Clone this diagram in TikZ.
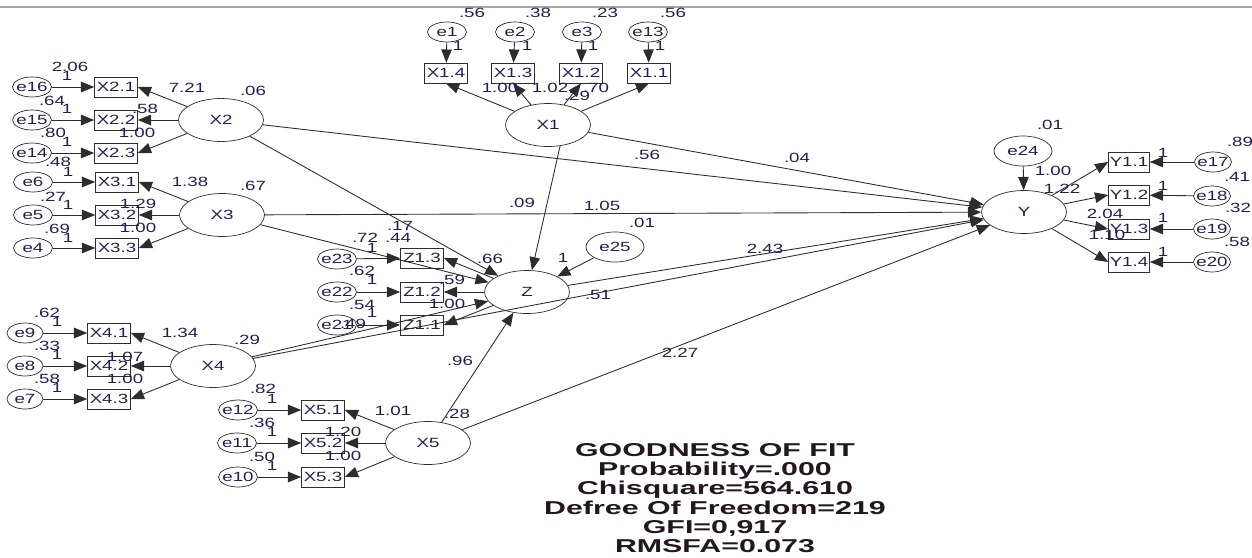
\documentclass[tikz,border=0pt]{standalone}
\usepackage{fontspec}
\setmainfont{Liberation Sans}[FakeStretch=1.4]
\newfontfamily\goffont{Liberation Sans}[FakeStretch=1.63]
\usetikzlibrary{shapes.geometric,arrows.meta}

\definecolor{ink}{RGB}{32,32,82}
\definecolor{edge}{RGB}{45,45,45}
\definecolor{gofink}{RGB}{35,22,32}
\newcommand{\nb}[1]{\makebox[0pt]{#1}}

\tikzset{
  lat/.style={ellipse, draw=edge, minimum width=1.7cm, minimum height=0.86cm, inner sep=0pt, text=ink},
  err/.style={ellipse, draw=edge, minimum width=0.78cm, minimum height=0.4cm, inner sep=0pt, text=ink},
  errbig/.style={err, minimum width=1.16cm, minimum height=0.6cm},
  obs/.style={rectangle, draw=edge, minimum width=0.86cm, minimum height=0.4cm, inner sep=0pt, text=ink},
  arr/.style={draw=edge, line width=0.5pt, -{Triangle[length=7.5pt,width=6pt]}},
  lbl/.style={text=ink, inner sep=0pt},
}

\begin{document}
\begin{tikzpicture}[x=0.02cm, y=-0.02cm, font=\fontsize{7.6}{8}\selectfont]
    \useasboundingbox (0,0) rectangle (1252,558);
    % Bordure en haut
    \draw[gray!70, line width=1.2pt] (0,7) -- (1252,7);

    % Bloc X2
    \node[err] (e16) at (32,87) {\nb{e16}};
    \node[err] (e15) at (32,120) {\nb{e15}};
    \node[err] (e14) at (32,153) {\nb{e14}};
    \node[obs] (X21) at (116,87) {X2.1};
    \node[obs] (X22) at (116,120) {X2.2};
    \node[obs] (X23) at (116,153) {X2.3};
    \node[lat] (X2) at (221,120) {X2};
    \draw[arr] (e16) -- (X21);
    \draw[arr] (e15) -- (X22);
    \draw[arr] (e14) -- (X23);
    \draw[arr] (X2) -- (X21.east);
    \draw[arr] (X2) -- (X22.east);
    \draw[arr] (X2) -- (X23.east);
    \node[lbl] (v16) at (70,67) {2.06};
    \node[lbl] (w16) at (67,76) {1};
    \node[lbl] (v15) at (52,101) {.64};
    \node[lbl] (w15) at (67,109) {1};
    \node[lbl] (v14) at (53,133) {.80};
    \node[lbl] (w14) at (67,142) {1};
    \node[lbl] (k21) at (187,88) {7.21};
    \node[lbl] (k22) at (145,109) {.58};
    \node[lbl] (k23) at (137,133) {1.00};
    \node[lbl] (vX2) at (253,91) {.06};

    % Bloc X3
    \node[err] (e6) at (33,182) {\nb{e6}};
    \node[err] (e5) at (33,215) {\nb{e5}};
    \node[err] (e4) at (33,248) {\nb{e4}};
    \node[obs] (X31) at (117,182) {X3.1};
    \node[obs] (X32) at (117,215) {X3.2};
    \node[obs] (X33) at (117,248) {X3.3};
    \node[lat] (X3) at (222,215) {X3};
    \draw[arr] (e6) -- (X31);
    \draw[arr] (e5) -- (X32);
    \draw[arr] (e4) -- (X33);
    \draw[arr] (X3) -- (X31.east);
    \draw[arr] (X3) -- (X32.east);
    \draw[arr] (X3) -- (X33.east);
    \node[lbl] (v6) at (58,162) {.48};
    \node[lbl] (w6) at (68,172) {1};
    \node[lbl] (v5) at (53,197) {.27};
    \node[lbl] (w5) at (68,205) {1};
    \node[lbl] (v4) at (57,229) {.69};
    \node[lbl] (w4) at (68,238) {1};
    \node[lbl] (k31) at (190,182) {1.38};
    \node[lbl] (k32) at (138,204) {1.29};
    \node[lbl] (k33) at (138,228) {1.00};
    \node[lbl] (vX3) at (253,186) {.67};

    % Bloc X1
    \node[err] (e1) at (447,32) {\nb{e1}};
    \node[err] (e2) at (515,32) {\nb{e2}};
    \node[err] (e3) at (582,32) {\nb{e3}};
    \node[err] (e13) at (648,32) {\nb{e13}};
    \node[obs] (X14) at (446,73) {X1.4};
    \node[obs] (X13) at (513,73) {X1.3};
    \node[obs] (X12) at (581,73) {X1.2};
    \node[obs] (X11) at (649,73) {X1.1};
    \node[lat] (X1) at (548,125) {X1};
    \draw[arr] (e1) -- (X14);
    \draw[arr] (e2) -- (X13);
    \draw[arr] (e3) -- (X12);
    \draw[arr] (e13) -- (X11);
    \draw[arr] (X1) -- (X14.south);
    \draw[arr] (X1) -- (X13.south);
    \draw[arr] (X1) -- (X12.south);
    \draw[arr] (X1) -- (X11.south);
    \node[lbl] (v1) at (472,13) {.56};
    \node[lbl] (v2) at (538,13) {.38};
    \node[lbl] (v3) at (605,13) {.23};
    \node[lbl] (v13) at (673,13) {.56};
    \node[lbl] (w1) at (458,46) {1};
    \node[lbl] (w2) at (527,46) {1};
    \node[lbl] (w3) at (593,46) {1};
    \node[lbl] (w13) at (660,46) {1};
    \node[lbl] (k14) at (500,88) {1.00};
    \node[lbl] (k12) at (550,88) {1.02};
    \node[lbl] (k11) at (596,88) {.70};
    \node[lbl] (vX1) at (577,96) {.29};

    % Bloc Z
    \node[err] (e23) at (337,259) {\nb{e23}};
    \node[err] (e22) at (337,292) {\nb{e22}};
    \node[err] (e21) at (337,325) {\nb{e21}};
    \node[obs] (Z13) at (422,258) {Z1.3};
    \node[obs] (Z12) at (422,292) {Z1.2};
    \node[obs] (Z11) at (422,325) {Z1.1};
    \node[lat] (Z) at (527,292) {Z};
    \node[errbig] (e25) at (615,247) {e25};
    \draw[arr] (e23) -- (Z13);
    \draw[arr] (e22) -- (Z12);
    \draw[arr] (e21) -- (Z11);
    \draw[arr] (Z) -- (Z13.east);
    \draw[arr] (Z) -- (Z12.east);
    \draw[arr] (Z) -- (Z11.east);
    \draw[arr] (e25) -- (Z);
    \node[lbl] (v23) at (365,238) {.72};
    \node[lbl] (w23) at (372,248) {1};
    \node[lbl] (v22) at (362,271) {.62};
    \node[lbl] (w22) at (372,280) {1};
    \node[lbl] (v21) at (362,305) {.54};
    \node[lbl] (w21) at (372,313) {1};
    \node[lbl] (kz3) at (398,238) {.44};
    \node[lbl] (kz2) at (452,280) {.59};
    \node[lbl] (kz1) at (447,304) {1.00};
    \node[lbl] (w25) at (563,258) {1};
    \node[lbl] (v25) at (642,223) {.01};

    % Bloc X4
    \node[err, minimum width=0.72cm] (e9) at (25,333) {\nb{e9}};
    \node[err, minimum width=0.72cm] (e8) at (25,366) {\nb{e8}};
    \node[err, minimum width=0.72cm] (e7) at (25,399) {\nb{e7}};
    \node[obs] (X41) at (109,333) {X4.1};
    \node[obs] (X42) at (109,366) {X4.2};
    \node[obs] (X43) at (109,399) {X4.3};
    \node[lat] (X4) at (213,366) {X4};
    \draw[arr] (e9) -- (X41);
    \draw[arr] (e8) -- (X42);
    \draw[arr] (e7) -- (X43);
    \draw[arr] (X4) -- (X41.east);
    \draw[arr] (X4) -- (X42.east);
    \draw[arr] (X4) -- (X43.east);
    \node[lbl] (v9) at (47,313) {.62};
    \node[lbl] (w9) at (57,322) {1};
    \node[lbl] (v8) at (47,346) {.33};
    \node[lbl] (w8) at (57,355) {1};
    \node[lbl] (v7) at (47,379) {.58};
    \node[lbl] (w7) at (57,388) {1};
    \node[lbl] (k41) at (180,333) {1.34};
    \node[lbl] (k42) at (125,357) {1.07};
    \node[lbl] (k43) at (125,379) {1.00};
    \node[lbl] (vX4) at (247,340) {.29};

    % Bloc X5
    \node[err] (e12) at (238,410) {\nb{e12}};
    \node[err] (e11) at (237,443) {\nb{e11}};
    \node[err] (e10) at (238,477) {\nb{e10}};
    \node[obs] (X51) at (323,410) {X5.1};
    \node[obs] (X52) at (323,443) {X5.2};
    \node[obs] (X53) at (323,477) {X5.3};
    \node[lat] (X5) at (428,443) {X5};
    \draw[arr] (e12) -- (X51);
    \draw[arr] (e11) -- (X52);
    \draw[arr] (e10) -- (X53);
    \draw[arr] (X5) -- (X51.east);
    \draw[arr] (X5) -- (X52.east);
    \draw[arr] (X5) -- (X53.east);
    \node[lbl] (v12) at (263,389) {.82};
    \node[lbl] (w12) at (272,399) {1};
    \node[lbl] (v11) at (262,423) {.36};
    \node[lbl] (w11) at (272,432) {1};
    \node[lbl] (v10) at (262,457) {.50};
    \node[lbl] (w10) at (272,466) {1};
    \node[lbl] (k51) at (393,411) {1.01};
    \node[lbl] (k52) at (343,432) {1.20};
    \node[lbl] (k53) at (343,456) {1.00};
    \node[lbl] (vX5) at (457,414) {.28};

    % Bloc Y
    \node[errbig] (e24) at (1023,151) {e24};
    \node[lat] (Y) at (1024,212) {Y};
    \node[obs, minimum width=0.82cm] (Y11) at (1129,162) {Y1.1};
    \node[obs, minimum width=0.82cm] (Y12) at (1129,195) {Y1.2};
    \node[obs, minimum width=0.82cm] (Y13) at (1129,229) {Y1.3};
    \node[obs, minimum width=0.82cm] (Y14) at (1129,262) {Y1.4};
    \node[err, minimum width=0.74cm] (e17) at (1213,162) {\nb{e17}};
    \node[err, minimum width=0.74cm] (e18) at (1212,196) {\nb{e18}};
    \node[err, minimum width=0.74cm] (e19) at (1212,229) {\nb{e19}};
    \node[err, minimum width=0.74cm] (e20) at (1212,262) {\nb{e20}};
    \draw[arr] (e24) -- (Y);
    \draw[arr] (Y) -- (Y11.west);
    \draw[arr] (Y) -- (Y12.west);
    \draw[arr] (Y) -- (Y13.west);
    \draw[arr] (Y) -- (Y14.west);
    \draw[arr] (e17) -- (Y11);
    \draw[arr] (e18) -- (Y12);
    \draw[arr] (e19) -- (Y13);
    \draw[arr] (e20) -- (Y14);
    \node[lbl] (v24) at (1050,125) {.01};
    \node[lbl] (w24) at (1053,171) {1.00};
    \node[lbl] (ky1) at (1062,189) {1.22};
    \node[lbl] (ky3) at (1105,214) {2.04};
    \node[lbl] (ky4) at (1107,235) {1.10};
    \node[lbl] (v17) at (1240,142) {.89};
    \node[lbl] (v18) at (1237,177) {.41};
    \node[lbl] (v19) at (1238,208) {.32};
    \node[lbl] (v20) at (1237,242) {.58};
    \node[lbl] (w17) at (1163,153) {1};
    \node[lbl] (w18) at (1163,186) {1};
    \node[lbl] (w19) at (1163,218) {1};
    \node[lbl] (w20) at (1163,252) {1};

    % Chemins structurels
    \draw[arr] (X2) -- (Z);
    \draw[arr] (X3) -- (Z);
    \draw[arr] (X1.300) -- (Z);
    \draw[arr] (X4) -- (Z);
    \draw[arr] (X5) -- (Z);
    \draw[arr] (X1) -- (Y);
    \draw[arr] (X2) -- (Y);
    \draw[arr] (X3) -- (Y);
    \draw[arr] (Z) -- (Y);
    \draw[arr] (X4) -- (Y);
    \draw[arr] (X5) -- (Y);
    \node[lbl] (p2z) at (400,226) {.17};
    \node[lbl] (p3z) at (490,259) {.66};
    \node[lbl] (p1z) at (522,203) {.09};
    \node[lbl] (p4z) at (353,324) {.49};
    \node[lbl] (p5z) at (460,361) {.96};
    \node[lbl] (p2y) at (647,155) {.56};
    \node[lbl] (p1y) at (797,158) {.04};
    \node[lbl] (p3y) at (602,206) {1.05};
    \node[lbl] (pzy) at (765,249) {2.43};
    \node[lbl] (p4y) at (598,295) {.51};
    \node[lbl] (p5y) at (680,353) {2.27};

    % Ajustement
    \node[text=gofink, align=center, inner sep=0pt,
          font=\goffont\bfseries\fontsize{10.6}{11}\selectfont] (gof) at (715,498)
        {GOODNESS OF FIT\\ Probability=.000\\ Chisquare=564.610\\
         Defree Of Freedom=219\\ GFI=0,917\\ RMSFA=0.073};
\end{tikzpicture}
\end{document}
